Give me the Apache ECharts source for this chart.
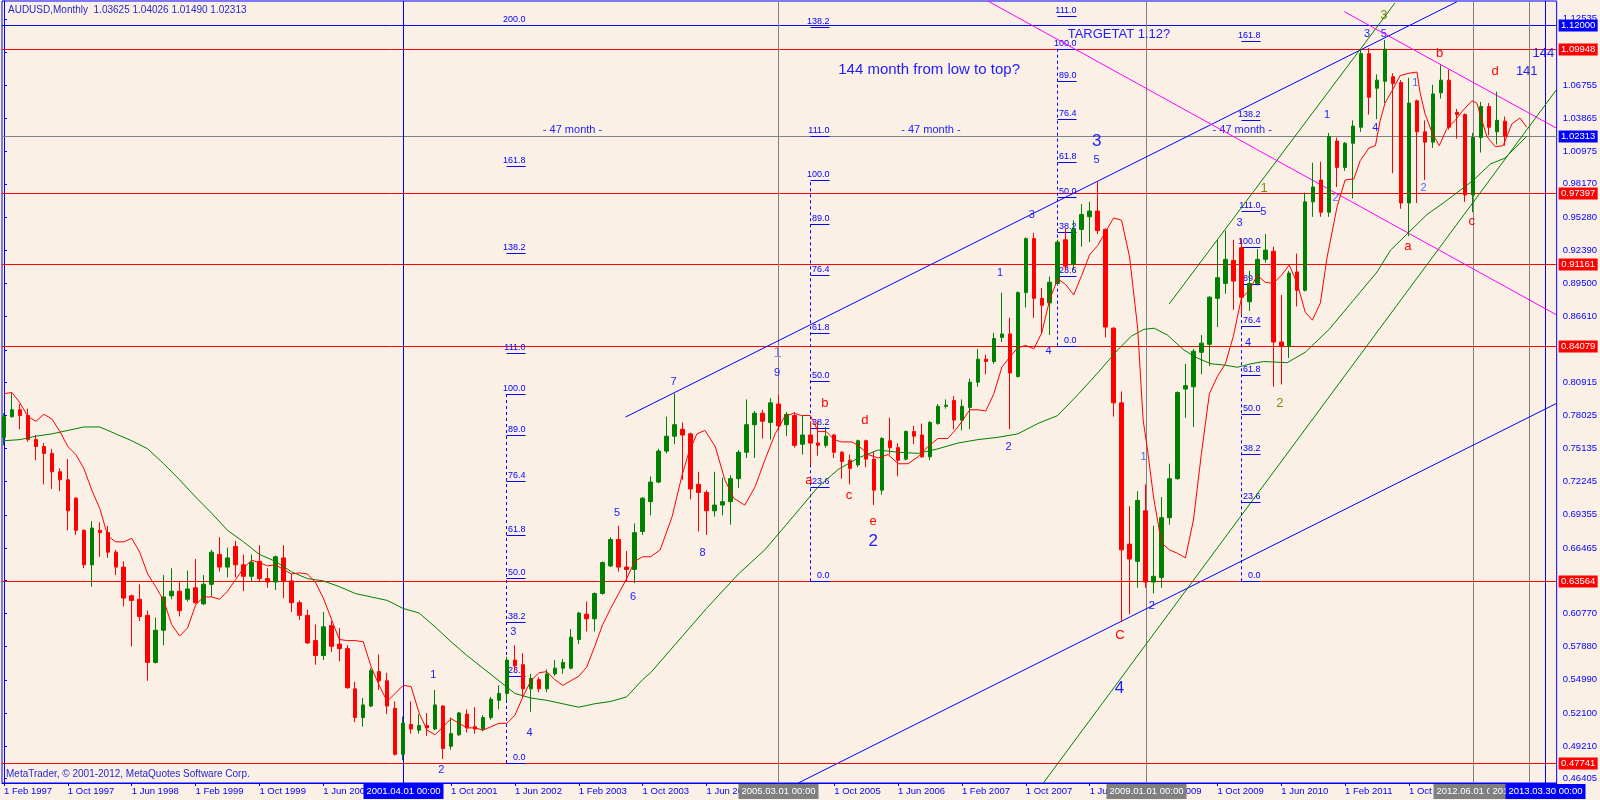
<!DOCTYPE html>
<html><head><meta charset="utf-8">
<script src="https://cdn.jsdelivr.net/npm/echarts@6/dist/echarts.min.js"></script>
<style>html,body{margin:0;padding:0;background:#FAF0E6;}#c{width:1600px;height:800px;}</style>
</head><body><div id="c"></div><script>
// ---------- DATA (monthly AUDUSD, index 0 = Feb 1997) ----------
const openP = [.761,.779,.785,.780,.759,.753,.747,.731,.724,.708,
.680,.650,.680,.678,.661,.648,.623,.620,.606,.565,
.593,.623,.627,.620,.630,.616,.633,.659,.648,.666,
.650,.640,.653,.638,.635,.656,.636,.617,.606,.584,
.571,.597,.581,.577,.542,.517,.527,.557,.549,.525,
.485,.511,.506,.510,.507,.527,.492,.502,.520,.509,
.507,.517,.532,.538,.567,.563,.542,.550,.542,.555,
.560,.560,.585,.607,.603,.625,.649,.672,.648,.646,
.679,.705,.722,.749,.762,.768,.764,.720,.713,.697,
.702,.705,.725,.748,.772,.782,.774,.790,.772,.780,
.755,.763,.756,.754,.763,.748,.741,.737,.758,.742,
.715,.758,.752,.742,.766,.763,.744,.773,.788,.793,
.776,.787,.809,.829,.827,.848,.851,.814,.887,.934,
.882,.878,.895,.933,.912,.942,.953,.958,.942,.856,
.791,.668,.653,.697,.635,.639,.691,.725,.803,.805,
.835,.842,.882,.895,.915,.926,.879,.895,.916,.923,
.844,.840,.905,.889,.966,.985,.957,1.019,.996,1.017,
1.031,1.095,1.065,1.071,1.075,1.070,.965,1.054,1.027,1.018,
1.061,1.072,1.044,1.042,.972,1.022,1.049,1.027,1.03625];
const highP = [.782,.800,.790,.786,.763,.756,.751,.734,.742,.709,
.681,.688,.687,.684,.663,.653,.624,.633,.610,.604,
.641,.647,.636,.645,.655,.641,.663,.674,.665,.671,
.659,.659,.667,.647,.658,.667,.642,.619,.611,.598,
.609,.601,.595,.580,.548,.534,.560,.572,.556,.531,
.518,.531,.520,.521,.541,.528,.517,.522,.524,.526,
.519,.535,.545,.570,.580,.573,.555,.552,.559,.567,
.568,.594,.609,.618,.626,.653,.674,.684,.662,.686,
.709,.727,.751,.779,.799,.774,.765,.731,.715,.731,
.726,.728,.750,.794,.784,.785,.795,.798,.783,.783,
.780,.775,.775,.770,.764,.749,.746,.759,.759,.749,
.761,.778,.756,.767,.771,.773,.775,.790,.794,.797,
.794,.812,.838,.833,.852,.887,.865,.888,.935,.939,
.891,.901,.933,.943,.950,.964,.966,.984,.943,.857,
.801,.701,.714,.720,.684,.709,.738,.801,.825,.838,
.850,.884,.933,.941,.933,.934,.906,.925,.938,.927,
.885,.906,.921,.974,1.000,1.001,1.026,1.022,1.018,1.037,
1.099,1.100,1.077,1.107,1.078,1.072,1.074,1.055,1.037,1.068,
1.085,1.081,1.047,1.043,1.026,1.053,1.052,1.062,1.04026];
const lowP = [.754,.778,.768,.757,.741,.720,.716,.714,.680,.676,
.647,.631,.657,.656,.641,.614,.579,.601,.549,.564,
.580,.620,.605,.618,.616,.615,.622,.644,.639,.639,
.627,.635,.635,.630,.628,.621,.609,.602,.581,.563,
.567,.574,.566,.542,.513,.509,.526,.541,.520,.484,
.480,.503,.503,.501,.506,.481,.489,.501,.504,.503,
.505,.515,.524,.532,.557,.534,.522,.539,.539,.553,
.555,.559,.581,.592,.592,.624,.648,.644,.635,.634,
.676,.693,.721,.747,.755,.724,.707,.679,.676,.692,
.693,.685,.717,.743,.743,.760,.759,.767,.762,.752,
.746,.737,.745,.752,.743,.725,.720,.735,.735,.702,
.711,.746,.727,.741,.755,.743,.741,.772,.786,.768,
.767,.768,.805,.816,.825,.844,.768,.813,.874,.865,
.851,.850,.894,.906,.907,.927,.931,.938,.848,.779,
.600,.607,.630,.630,.625,.630,.685,.724,.778,.770,
.816,.823,.857,.886,.872,.868,.871,.893,.913,.805,
.807,.830,.875,.888,.953,.953,.953,.979,.993,.969,
1.027,1.042,1.038,1.052,.991,.960,.936,.965,.985,1.013,
1.056,1.029,1.021,.966,.957,1.009,1.024,1.016,1.01490];
const closeP = [.779,.785,.780,.759,.753,.747,.731,.724,.697,.680,
.650,.682,.678,.661,.648,.621,.619,.605,.565,.593,
.622,.627,.610,.629,.617,.633,.661,.648,.656,.650,
.640,.652,.638,.635,.657,.636,.617,.606,.582,.571,
.596,.579,.577,.543,.517,.528,.558,.549,.527,.485,
.512,.507,.510,.508,.528,.490,.503,.521,.508,.507,
.517,.533,.538,.567,.562,.542,.551,.542,.555,.560,
.565,.587,.608,.603,.625,.652,.672,.648,.646,.678,
.708,.722,.749,.762,.772,.763,.716,.713,.697,.702,
.705,.725,.748,.772,.782,.775,.791,.771,.781,.754,
.763,.756,.754,.762,.748,.740,.734,.758,.742,.715,
.760,.752,.741,.766,.762,.744,.774,.788,.789,.776,
.788,.809,.829,.827,.847,.851,.817,.887,.934,.882,
.876,.896,.931,.910,.942,.955,.958,.941,.857,.791,
.663,.655,.706,.635,.640,.691,.725,.800,.806,.836,
.843,.883,.900,.916,.897,.883,.895,.916,.924,.844,
.840,.904,.889,.966,.979,.957,1.023,.996,1.017,1.032,
1.095,1.057,1.072,1.099,1.069,.965,1.052,1.027,1.018,1.060,
1.072,1.031,1.042,.972,1.022,1.049,1.031,1.037,1.02313];

// moving averages: [bar index, value]
const maFast = [[0,.799],[1,.800],[2,.791],[3,.779],[4,.775],[5,.781],[6,.777],[7,.766],[8,.753],[9,.746],[10,.734],[11,.715],[12,.699],[13,.675],[14,.670],[15,.670],[16,.673],[17,.661],[18,.642],[19,.631],[20,.619],[21,.598],[22,.588],[23,.595],[24,.615],[25,.622],[26,.622],[27,.620],[28,.627],[29,.637],[30,.647],[31,.654],[32,.652],[33,.649],[34,.650],[35,.646],[36,.642],[37,.643],[38,.642],[39,.635],[40,.621],[41,.603],[42,.585],[43,.584],[44,.584],[45,.583],[46,.561],[47,.545],[48,.531],[49,.538],[50,.545],[51,.544],[52,.521],[53,.506],[54,.502],[55,.509],[56,.516],[57,.512],[58,.508],[59,.508],[60,.506],[61,.509],[62,.512],[63,.512],[64,.519],[65,.535],[66,.549],[67,.556],[68,.557],[69,.550],[70,.545],[71,.549],[72,.553],[73,.561],[74,.579],[75,.598],[76,.612],[77,.625],[78,.638],[79,.653],[80,.657],[81,.657],[82.2,.663],[83.7,.692],[84.9,.727],[85.75,.747],[86.8,.764],[87.8,.767],[89.1,.753],[90.3,.724],[91.4,.708],[92.8,.702],[94.1,.718],[95.3,.741],[96.6,.764],[97.8,.779],[98.9,.782],[99.9,.780],[101,.780],[102,.766],[103,.766],[104,.759],[104.9,.757],[106.2,.757],[107,.754],[108.25,.746],[109.5,.743],[110.75,.746],[112,.738],[113.25,.738],[114.5,.744],[115.75,.753],[117,.760],[118.25,.760],[119.5,.770],[121,.785],[122,.785],[123,.784],[124,.799],[125,.822],[126,.831],[127,.839],[128,.841],[129,.838],[130,.852],[131,.881],[132,.899],[133,.894],[134,.885],[135,.902],[136,.920],[137,.928],[138,.940],[139,.952],[140,.950],[141,.918],[142,.857],[142.7,.776],[143.25,.750],[144,.709],[145,.669],[146,.663],[147,.660],[148,.656],[149,.689],[150,.747],[151,.799],[152,.814],[153,.825],[154,.849],[155,.882],[156,.889],[157,.902],[158,.896],[159,.895],[160,.902],[161,.911],[162,.895],[163,.870],[163.9,.863],[164.9,.878],[165.75,.918],[167,.962],[168,.985],[169.1,.986],[169.9,1.002],[171,1.013],[171.8,1.015],[172.4,1.037],[173,1.052],[173.9,1.063],[174.9,1.076],[176,1.078],[177,1.079],[177.4,1.061],[178,1.043],[178.9,1.026],[179.8,1.015],[180.75,1.030],[181.8,1.037],[182.8,1.046],[183.9,1.054],[184.5,1.052],[185.75,1.023],[186.8,1.014],[187.8,1.015],[188.9,1.034],[189.9,1.039],[190.75,1.031]];
const maSlow = [[0,.758],[2,.759],[4,.762],[6,.764],[8,.767],[10,.770],[12,.770],[14,.764],[16,.758],[18,.751],[20,.738],[22,.724],[24,.709],[26,.695],[28,.680],[30,.670],[32,.659],[34,.653],[36,.644],[38,.638],[40,.636],[42,.631],[44,.625],[46,.622],[48,.619],[50,.612],[52,.608],[54,.596],[56,.583],[58,.571],[60,.560],[62,.549],[64,.538],[66,.534],[68,.532],[70,.529],[72,.526],[74,.529],[76,.531],[78,.535],[80,.550],[81,.556],[84,.580],[88,.612],[92,.642],[95.3,.663],[98,.685],[102,.718],[104.5,.733],[107,.743],[109.5,.750],[112,.748],[114.5,.747],[117,.751],[119.5,.756],[122,.759],[124.5,.761],[127,.764],[129.5,.773],[132,.780],[134.5,.798],[137,.817],[139.5,.837],[141.2,.849],[142.8,.855],[144.1,.856],[145.75,.850],[147.8,.837],[149.5,.830],[151.2,.825],[152.8,.824],[154.5,.822],[156.2,.825],[157.8,.827],[160.75,.826],[163,.835],[166,.855],[169,.880],[172,.905],[173.7,.924],[178.25,.955],[180.3,.965],[184.1,.985],[186.2,.999],[188,1.004],[190.75,1.023]];

// axis tick labels
const xTickLabels = ['1 Feb 1997','1 Oct 1997','1 Jun 1998','1 Feb 1999','1 Oct 1999','1 Jun 2000','1 Feb 2001','1 Oct 2001','1 Jun 2002','1 Feb 2003','1 Oct 2003','1 Jun 2004','1 Feb 2005','1 Oct 2005','1 Jun 2006','1 Feb 2007','1 Oct 2007','1 Jun 2008','1 Feb 2009','1 Oct 2009','1 Jun 2010','1 Feb 2011','1 Oct 2011','1 Jun 2012'];
const xTickStep = 8; // months between labels
const yTickLabels = [0.46405,0.49210,0.52100,0.54990,0.57880,0.60770,0.63660,0.66465,0.69355,0.72245,0.75135,0.78025,0.80915,0.83720,0.86610,0.89500,0.92390,0.95280,0.98170,1.00975,1.03865,1.06755,1.09645,1.12535];

// horizontal price levels
const levelPrice = [1.12000,1.09948,1.02313,0.97397,0.91161,0.84079,0.63564,0.47741];
const levelKind  = ['blue','red','ask','red','red','red','red','red'];
// vertical time lines
const vLineIdx  = [50,97,143,184,191,193];
const vLineText = ['2001.04.01 00:00','2005.03.01 00:00','2009.01.01 00:00','2012.06.01 00:00','2013.01.01 00:00','2013.03.30 00:00'];
const vLineKind = ['blue','gray','gray','gray','gray','blue'];

// Fibonacci tools
const fibX  = [62.875,100.96,131.9,154.9];
const fibLo = [0.47741,0.63564,0.84079,0.63564];
const fibHi = [0.7988,0.9849,1.09948,0.9264];
const fibLevels = [[0,23.6,38.2,50,61.8,76.4,89,100,111,138.2,161.8,200],[0,23.6,38.2,50,61.8,76.4,89,100,111,138.2],[0,23.6,38.2,50,61.8,76.4,89,100,111],[0,23.6,38.2,50,61.8,76.4,89,100,111,138.2,161.8]];

// trend lines [index, price]
const tlBlueUp   = [[77.875,.7787],[182,1.1402]];
const tlBlueLow  = [[99.5,.4600],[194.5,.7906]];
const tlGreenUp  = [[145.96,.8771],[174.25,1.1392]];
const tlGreenLow = [[130.2,.4600],[194.5,1.0639]];
const tlMag1     = [[123.25,1.1409],[194.5,.8675]];
const tlMag2     = [[167.9,1.1316],[194.5,1.0301]];

// wave labels
const waveX = [53.79,54.79,63.79,65.84,76.79,78.79,83.875,87.5,96.9,96.84,102.84,100.84,105.84,107.84,108.875,108.875,136.875,136.875,128.75,124.79,130.84,125.84,139.79,139.75,142.75,143.79,154.79,157.75,157.84,155.84,159.84,172.84,170.75,172.84,165.75,171.79,166.79,176.79,177.84,179.84,186.79,175.875,183.875,190.75,192.84];
const waveP = [.5540,.4713,.5917,.5038,.6948,.6222,.8094,.6603,.8341,.8173,.7906,.7238,.7102,.7761,.6875,.6701,1.0190,1.0025,.9546,.9038,.8364,.7523,.5889,.5427,.7441,.6141,.9473,.9574,.9778,.8429,.7906,1.1287,1.1122,1.1122,1.0416,1.0301,.9691,1.0692,.9778,1.0954,1.0793,.9270,.9487,1.0793,1.0954];
const waveText = ['1','2','3','4','5','6','7','8','1','9','b','a','c','d','e','2','3','5','3','1','4','2','C','4','1','2','3','5','1','4','2','3','3','5','1','4','2','1','2','b','d','a','c','141','144'];
const waveKind = ['bs','bs','bs','bs','bs','bs','bs','bs','pl','bs','r','r','r','r','r','bl','bl','bs','bs','bs','bs','bs','r','bl','lb','bs','bs','bs','o','bs','o','o','bs','bs','bs','bs','lb','lb','lb','r','r','r','r','bm','bm'];
// free text notes
const noteX = [133.25,104.5,67.5,112.4,151.4];
const noteP = [1.1119,1.0813,1.029,1.029,1.029];
const noteText = ['TARGETAT 1.12?','144 month from low to top?','- 47 month -','- 47 month -','- 47 month -'];

// ---------- STYLE ----------
const FONT = "'Liberation Sans', Arial, sans-serif";
const BLUE = '#0000ff';
const kindStyle = {bs:['#1c1cff',11], bl:['#1c1cff',17], pl:['#8c8cdc',15], lb:['#4a6cff',11], r:['#ff0000',13], o:['#7c8c00',13], bm:['#1c1cff',13]};
const noteSize = [13,15,11,11,11];
const X_MIN = -0.25, X_MAX = 194.5, Y_MIN = 0.46001, Y_MAX = 1.14090;

const candles = openP.map((o,i)=>[i,o,closeP[i],lowP[i],highP[i]]);

function lineSeries(data,color,z,w){return {type:'line',data:data,symbol:'none',silent:true,clip:true,z:z||2,lineStyle:{color:color,width:w||1},animation:false};}

const fibItems=[]; fibLevels.forEach((lv,f)=>lv.forEach(r=>fibItems.push([fibX[f], fibLo[f]+r/100*(fibHi[f]-fibLo[f]), f, r])));

const option = {
  backgroundColor:'#FAF0E6', animation:false,
  grid:{left:2,right:40,top:1,bottom:17,show:true,borderColor:BLUE,borderWidth:1,backgroundColor:'#FAF0E6'},
  xAxis:{type:'value',min:X_MIN,max:X_MAX,
    axisLine:{show:true,lineStyle:{color:BLUE}},
    axisTick:{show:true,length:3,lineStyle:{color:BLUE},customValues:xTickLabels.map((_,k)=>k*xTickStep)},
    axisLabel:{customValues:xTickLabels.map((_,k)=>k*xTickStep),formatter:v=>xTickLabels[Math.round(v/xTickStep)]||'',align:'left',margin:3,color:BLUE,fontSize:9.5,fontFamily:FONT},
    splitLine:{show:false}},
  yAxis:{type:'value',position:'right',min:Y_MIN,max:Y_MAX,
    axisLine:{show:true,lineStyle:{color:BLUE}},
    axisTick:{show:true,length:3,lineStyle:{color:BLUE},customValues:yTickLabels},
    axisLabel:{customValues:yTickLabels,formatter:v=>v.toFixed(5),margin:6,color:BLUE,fontSize:9.5,fontFamily:FONT},
    splitLine:{show:false}},
  graphic:[
    {type:'text',left:8,top:5,style:{text:'AUDUSD,Monthly  1.03625 1.04026 1.01490 1.02313',fill:'#2626d0',font:'10px '+FONT}},
    {type:'text',left:6,top:769,style:{text:'MetaTrader, © 2001-2012, MetaQuotes Software Corp.',fill:'#2626d0',font:'10px '+FONT}}
  ],
  series:[
    // horizontal levels with right-side price boxes
    {type:'custom',coordinateSystem:'cartesian2d',clip:false,silent:true,z:1,data:levelPrice.map(p=>[0,p]),encode:{x:0,y:1},
      renderItem:(params,api)=>{const i=params.dataIndex,cs=params.coordSys,k=levelKind[i];
        const y=Math.round(api.coord([0,levelPrice[i]])[1])+0.5;
        const lc=k==='red'?'#ff0000':(k==='blue'?BLUE:'#808080'); const bc=k==='red'?'#ff0000':BLUE;
        return {type:'group',children:[
          {type:'line',shape:{x1:cs.x,y1:y,x2:cs.x+cs.width,y2:y},style:{stroke:lc,lineWidth:1}},
          {type:'rect',shape:{x:cs.x+cs.width+2,y:y-6,width:39,height:12},style:{fill:bc}},
          {type:'text',style:{text:levelPrice[i].toFixed(5),x:cs.x+cs.width+21.5,y:y,fill:'#ffffff',font:'9.5px '+FONT,align:'center',verticalAlign:'middle'}}]};}},
    // vertical lines with date boxes
    {type:'custom',coordinateSystem:'cartesian2d',clip:false,silent:true,z:1,data:vLineIdx.map(i=>[i,1]),encode:{x:0,y:1},
      renderItem:(params,api)=>{const i=params.dataIndex,cs=params.coordSys;
        const x=Math.round(api.coord([vLineIdx[i],1])[0])+0.5; const c=vLineKind[i]==='blue'?BLUE:'#808080';
        const yb=cs.y+cs.height;
        return {type:'group',children:[
          {type:'line',shape:{x1:x,y1:cs.y,x2:x,y2:yb},style:{stroke:c,lineWidth:1}},
          {type:'rect',shape:{x:x-40,y:yb+1,width:80,height:15},style:{fill:c}},
          {type:'text',style:{text:vLineText[i],x:x,y:yb+8.5,fill:'#ffffff',font:'9.5px '+FONT,align:'center',verticalAlign:'middle'}}]};}},
    // fib dashed anchors
    {type:'custom',coordinateSystem:'cartesian2d',clip:true,silent:true,z:1,data:fibX.map((x,f)=>[x,fibLo[f]]),encode:{x:0,y:1},
      renderItem:(params,api)=>{const f=params.dataIndex;const a=api.coord([fibX[f],fibLo[f]]),b=api.coord([fibX[f],fibHi[f]]);
        const x=Math.round(a[0])+0.5;
        return {type:'line',shape:{x1:x,y1:a[1],x2:x,y2:b[1]},style:{stroke:BLUE,lineWidth:1,lineDash:[3,3]}};}},
    // fib levels
    {type:'custom',coordinateSystem:'cartesian2d',clip:true,silent:true,z:1,data:fibItems.map(d=>[d[0],d[1]]),encode:{x:0,y:1},
      renderItem:(params,api)=>{const d=fibItems[params.dataIndex];const p=api.coord([d[0],d[1]]);
        const x=Math.round(p[0])+0.5,y=Math.round(p[1])+0.5;
        return {type:'group',children:[
          {type:'line',shape:{x1:x,y1:y,x2:x+19,y2:y},style:{stroke:BLUE,lineWidth:1}},
          {type:'text',style:{text:d[3].toFixed(1),x:x+19,y:y-1,fill:BLUE,font:'9px '+FONT,align:'right',verticalAlign:'bottom'}}]};}},
    // wave count labels
    {type:'custom',coordinateSystem:'cartesian2d',clip:false,silent:true,z:1,data:waveX.map((x,i)=>[x,waveP[i]]),encode:{x:0,y:1},
      renderItem:(params,api)=>{const i=params.dataIndex;const p=api.coord([waveX[i],waveP[i]]);const st=kindStyle[waveKind[i]];
        return {type:'text',style:{text:waveText[i],x:p[0],y:p[1],fill:st[0],font:st[1]+'px '+FONT,align:'center',verticalAlign:'middle'}};}},
    // notes
    {type:'custom',coordinateSystem:'cartesian2d',clip:false,silent:true,z:1,data:noteX.map((x,i)=>[x,noteP[i]]),encode:{x:0,y:1},
      renderItem:(params,api)=>{const i=params.dataIndex;const p=api.coord([noteX[i],noteP[i]]);
        return {type:'text',style:{text:noteText[i],x:p[0],y:p[1],fill:'#1c1cff',font:noteSize[i]+'px '+FONT,align:'left',verticalAlign:'middle'}};}},
    // trend lines
    lineSeries(tlBlueUp,BLUE,2), lineSeries(tlBlueLow,BLUE,2),
    lineSeries(tlGreenUp,'#008000',2), lineSeries(tlGreenLow,'#008000',2),
    lineSeries(tlMag1,'#ff00ff',2), lineSeries(tlMag2,'#ff00ff',2),
    // candles
    {type:'candlestick',data:candles,encode:{x:0,y:[1,2,3,4]},barWidth:4,z:3,clip:true,silent:true,
      itemStyle:{color:'#008000',color0:'#ff0000',borderColor:'#008000',borderColor0:'#ff0000',borderWidth:1}},
    // moving averages
    lineSeries(maSlow,'#008000',4), lineSeries(maFast,'#ff0000',4)
  ]
};
const chart = echarts.init(document.getElementById('c'),null,{renderer:'canvas'});
chart.setOption(option);
</script></body></html>
